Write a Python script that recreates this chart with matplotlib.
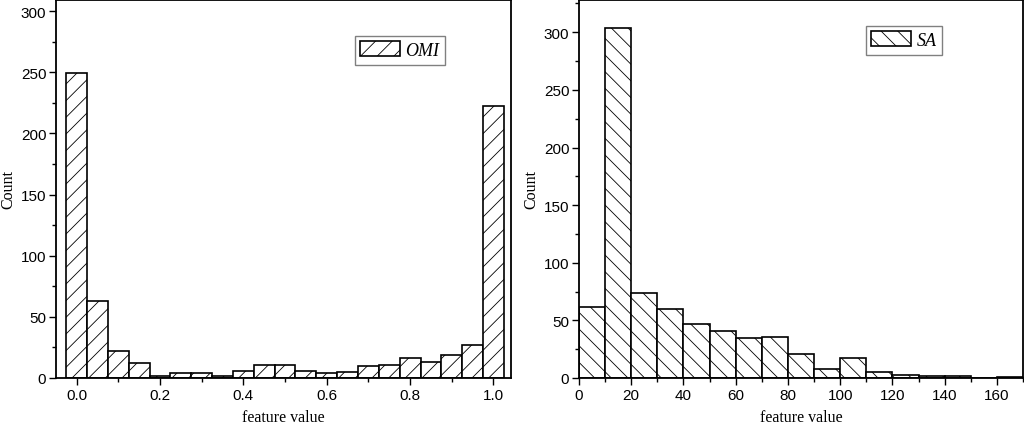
import numpy as np
import matplotlib
matplotlib.use('Agg')
import matplotlib.pyplot as plt
from matplotlib.ticker import MultipleLocator, FormatStrFormatter

# Data
omi_bins = [0.00, 0.05, 0.10, 0.15, 0.20, 0.25, 0.30, 0.35, 0.40, 0.45, 0.50,
            0.55, 0.60, 0.65, 0.70, 0.75, 0.80, 0.85, 0.90, 0.95, 1.00]
omi_counts = [249, 63, 22, 12, 2, 4, 4, 2, 6, 11, 11,
              6, 4, 5, 10, 11, 16, 13, 19, 27, 222]

sa_bins = [0, 10, 20, 30, 40, 50, 60, 70, 80, 90, 100, 110, 120, 130, 140, 150, 160]
sa_counts = [62, 304, 74, 60, 47, 41, 35, 36, 21, 8, 17, 5, 3, 2, 2, 0, 1]

plt.rcParams['hatch.linewidth'] = 0.6
tick_font = 'Liberation Sans'
label_font = 'Liberation Serif'

fig = plt.figure(figsize=(10.24, 4.27), dpi=100)
ax1 = fig.add_axes([56 / 1024, 48 / 427, 455 / 1024, 378 / 427])
ax2 = fig.add_axes([579 / 1024, 48 / 427, 444 / 1024, 378 / 427])

ax1.bar(omi_bins, omi_counts, width=0.05, align='center', facecolor='white',
        edgecolor='black', linewidth=1.2, hatch='//', label='OMI')
ax2.bar(sa_bins, sa_counts, width=10, align='edge', facecolor='white',
        edgecolor='black', linewidth=1.2, hatch='\\\\', label='SA')

ax1.set_xlim(-0.0495, 1.042)
ax1.set_ylim(0, 309)
ax1.xaxis.set_major_locator(MultipleLocator(0.2))
ax1.xaxis.set_minor_locator(MultipleLocator(0.1))
ax1.xaxis.set_major_formatter(FormatStrFormatter('%.1f'))

ax2.set_xlim(0, 170)
ax2.set_ylim(0, 328)
ax2.xaxis.set_major_locator(MultipleLocator(20))
ax2.xaxis.set_minor_locator(MultipleLocator(10))

legend_pos = [(355 / 1024, 1 - 37 / 427), (866 / 1024, 1 - 27 / 427)]
for ax, pos in zip([ax1, ax2], legend_pos):
    ax.yaxis.set_major_locator(MultipleLocator(50))
    ax.yaxis.set_minor_locator(MultipleLocator(25))
    ax.tick_params(which='major', direction='out', length=5, width=1,
                   labelsize=11, top=False, right=False, pad=2)
    ax.tick_params(which='minor', direction='out', length=3, width=1,
                   top=False, right=False)
    for lab in ax.get_xticklabels() + ax.get_yticklabels():
        lab.set_fontfamily(tick_font)
    for s in ['left', 'right', 'bottom', 'top']:
        ax.spines[s].set_linewidth(1.3)
    ax.set_xlabel('feature value', fontsize=11.5, family=label_font, labelpad=5)
    ax.set_ylabel('Count', fontsize=11.5, family=label_font, labelpad=3)
    leg = ax.legend(loc='upper left', bbox_to_anchor=pos,
                    bbox_transform=fig.transFigure, borderaxespad=0,
                    prop={'family': label_font, 'style': 'italic', 'size': 13},
                    handlelength=2.2, handleheight=0.9, handletextpad=0.3,
                    borderpad=0.3, fancybox=False, framealpha=1)
    leg.get_frame().set_edgecolor('#808080')
    leg.get_frame().set_linewidth(1.0)

fig.savefig('out.png', dpi=100)
